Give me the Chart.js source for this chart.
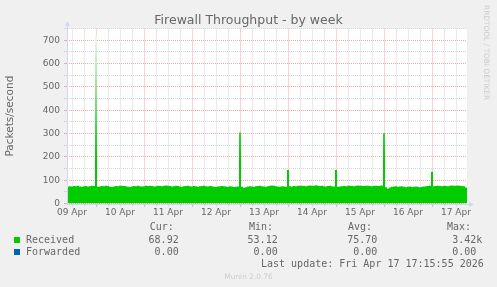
<!DOCTYPE html>
<html>
<head>
<meta charset="utf-8">
<script src="https://cdn.jsdelivr.net/npm/chart.js@4"></script>
<style>
  body { margin: 0; background: #f0f0f0; }
  #wrap { position: relative; width: 497px; height: 287px; overflow: hidden; font-family: "DejaVu Sans", sans-serif; color: #666; }
  canvas { position: absolute; left: 0; top: 0; }
  .t { position: absolute; white-space: pre; }
  .mono { font-family: "DejaVu Sans Mono", monospace; font-size: 10px; line-height: 12px; }
  .sq { position: absolute; width: 6px; height: 6px; }
</style>
</head>
<body>
<div id="wrap">
  <canvas id="chart" width="497" height="287"></canvas>
  <div class="t" id="title" style="left:0;width:497px;top:12px;text-align:center;font-size:12.5px;line-height:15px;">Firewall Throughput - by week</div>
  <div class="t" id="rrd" style="left:482px;top:5px;font-size:7.4px;line-height:9px;color:#ccc;writing-mode:vertical-rl;">RRDTOOL / TOBI OETIKER</div>
  <div class="t" id="munin" style="left:0;width:497px;top:272px;text-align:center;font-size:7.4px;line-height:9px;color:#ccc;">Munin 2.0.76</div>
  <div id="legend"></div>
</div>
<script>
// time axis in hours since 09 Apr 00:00
const startHour = 9.5;   // 09 Apr 09:30
const endHour = 209.5;   // 17 Apr 17:30
const dayLabels = ['09 Apr', '10 Apr', '11 Apr', '12 Apr', '13 Apr', '14 Apr', '15 Apr', '16 Apr', '17 Apr'];

// hourly Received packets/second, one value per hour from startHour
const received = [
  // 09 Apr
  72, 74, 73, 75, 74, 76, 73, 72, 74, 75, 73, 74, 76, 75,
  // 10 Apr
  720, 72, 73, 75, 74, 76, 75, 72, 71, 73, 75, 74, 76, 77, 75, 74, 72, 71, 73, 75, 74, 76, 74, 73,
  // 11 Apr
  74, 76, 75, 77, 75, 73, 74, 76, 75, 74, 76, 78, 76, 75, 73, 74, 76, 75, 73, 72, 74, 75, 76, 74,
  // 12 Apr
  73, 75, 74, 72, 74, 75, 76, 74, 73, 75, 74, 72, 71, 73, 74, 75, 74, 73, 72, 74, 73, 71, 72, 73,
  // 13 Apr
  305, 72, 68, 70, 73, 74, 73, 72, 74, 75, 76, 74, 73, 72, 74, 76, 78, 76, 74, 73, 72, 74, 73, 72,
  // 14 Apr
  144, 74, 73, 75, 74, 76, 77, 76, 75, 74, 76, 78, 77, 76, 79, 77, 75, 76, 74, 73, 75, 76, 74, 73,
  // 15 Apr
  144, 72, 73, 74, 75, 74, 76, 77, 75, 74, 76, 78, 77, 76, 75, 77, 76, 75, 74, 76, 77, 75, 76, 78,
  // 16 Apr
  303, 70, 65, 69, 72, 73, 74, 72, 73, 74, 72, 70, 72, 73, 71, 72, 73, 72, 70, 72, 73, 74, 75, 76,
  // 17 Apr
  137, 74, 75, 76, 75, 74, 76, 75, 74, 76, 78, 77, 76, 78, 77, 75, 74, 69
];

// legend table
const seriesNames  = ['Received', 'Forwarded'];
const seriesColors = ['#00cc00', '#0066b3'];
const curValues = ['68.92 ', '0.00 '];
const minValues = ['53.12 ', '0.00 '];
const avgValues = ['75.70 ', '0.00 '];
const maxValues = ['3.42k', '0.00 '];
const lastUpdate = 'Last update: Fri Apr 17 17:15:55 2026';

const gridMinor = '#d6d6d6';
const gridMajor = '#f0a8a8';
const axisColor = '#cfd6f8';

const points = received.map((v, i) => ({ x: startHour + i, y: v }));
points.push({ x: endHour, y: received[received.length - 1] });

const tickHours = [];
for (let h = 12; h < endHour; h += 6) tickHours.push(h);

const plotBg = {
  id: 'plotBg',
  beforeDraw(chart) {
    const { ctx, chartArea: a } = chart;
    ctx.save();
    ctx.fillStyle = '#ffffff';
    ctx.fillRect(a.left, a.top, a.right - a.left, a.bottom - a.top);
    ctx.restore();
  }
};

const axes = {
  id: 'axes',
  afterDatasetsDraw(chart) {
    const { ctx, chartArea: a } = chart;
    const x0 = Math.round(a.left) + 0.5;
    const y0 = Math.round(a.bottom) + 0.5;
    ctx.save();
    ctx.strokeStyle = axisColor;
    ctx.fillStyle = axisColor;
    ctx.lineWidth = 1;
    ctx.beginPath();
    ctx.moveTo(x0, y0);
    ctx.lineTo(a.right + 2, y0);
    ctx.moveTo(x0, y0);
    ctx.lineTo(x0, a.top - 3);
    ctx.stroke();
    ctx.beginPath();
    ctx.moveTo(a.right + 7, y0);
    ctx.lineTo(a.right + 2, y0 - 2.5);
    ctx.lineTo(a.right + 2, y0 + 2.5);
    ctx.closePath();
    ctx.fill();
    ctx.beginPath();
    ctx.moveTo(x0, a.top - 7);
    ctx.lineTo(x0 - 2.5, a.top - 2.5);
    ctx.lineTo(x0 + 2.5, a.top - 2.5);
    ctx.closePath();
    ctx.fill();
    ctx.restore();
  }
};

Chart.defaults.font.family = '"DejaVu Sans", sans-serif';
Chart.defaults.color = '#666';

new Chart(document.getElementById('chart'), {
  type: 'line',
  data: {
    datasets: [{
      label: 'Received',
      data: points,
      stepped: true,
      fill: 'origin',
      borderWidth: 0,
      pointRadius: 0,
      backgroundColor: ctx => {
        const a = ctx.chart.chartArea;
        if (!a) return '#00cc00';
        const g = ctx.chart.ctx.createLinearGradient(0, a.bottom, 0, a.top);
        g.addColorStop(0, '#00cc00');
        g.addColorStop(0.25, '#00cc00');
        g.addColorStop(0.6, '#80e080');
        g.addColorStop(0.95, '#eaf9ea');
        return g;
      }
    }]
  },
  options: {
    responsive: false,
    animation: false,
    layout: { padding: { top: 28.6, right: 30, bottom: 53.4, left: 0 } },
    plugins: { legend: { display: false }, tooltip: { enabled: false } },
    scales: {
      x: {
        type: 'linear',
        min: startHour,
        max: endHour,
        afterBuildTicks: s => { s.ticks = tickHours.map(v => ({ value: v })); },
        afterFit: s => { s.height = 30; s.paddingLeft = 0; s.paddingRight = 0; },
        ticks: {
          autoSkip: false,
          maxRotation: 0,
          padding: 1,
          font: { size: 9 },
          color: '#666',
          callback: v => (v % 24 === 12 ? dayLabels[(v - 12) / 24] : '')
        },
        grid: {
          color: c => (c.tick && c.tick.value % 24 === 0 ? gridMajor : gridMinor),
          tickColor: c => (c.tick && c.tick.value % 24 === 0 ? gridMajor : gridMinor),
          tickLength: 3
        },
        border: { display: false, dash: [1, 1] }
      },
      y: {
        min: 0,
        max: 750,
        afterFit: s => { s.width = 67; s.paddingTop = 0; s.paddingBottom = 0; },
        ticks: {
          stepSize: 50,
          autoSkip: false,
          padding: 4,
          font: { size: 9 },
          color: '#666',
          callback: v => (v % 100 === 0 ? v : '')
        },
        grid: {
          color: c => (c.tick && c.tick.value % 100 === 0 ? gridMajor : gridMinor),
          tickColor: c => (c.tick && c.tick.value % 100 === 0 ? gridMajor : gridMinor),
          tickLength: 3
        },
        border: { display: false, dash: [1, 1] },
        title: {
          display: true,
          text: 'Packets/second',
          font: { size: 10.5 },
          color: '#666',
          padding: { top: 4.4, bottom: 0 }
        }
      }
    }
  },
  plugins: [plotBg, axes]
});

// legend block below the plot
const legend = document.getElementById('legend');
const headerLeft = [149.7, 249, 348, 447];
const colRight = [184.7, 283.7, 383.3, 482.3];
const rowTop = [233.5, 245.5];
let html = '';
['Cur:', 'Min:', 'Avg:', 'Max:'].forEach((h, i) => {
  html += `<div class="t mono" style="left:${headerLeft[i]}px;top:220.5px">${h}</div>`;
});
seriesNames.forEach((name, r) => {
  const top = rowTop[r];
  html += `<div class="sq" style="left:14px;top:${top + 3.5}px;background:${seriesColors[r]}"></div>`;
  html += `<div class="t mono" style="left:26px;top:${top}px">${name}</div>`;
  [curValues, minValues, avgValues, maxValues].forEach((vals, c) => {
    html += `<div class="t mono" style="right:${497 - colRight[c]}px;top:${top}px;text-align:right">${vals[r]}</div>`;
  });
});
html += `<div class="t mono" style="left:261px;top:257.8px">${lastUpdate}</div>`;
legend.innerHTML = html;
</script>
</body>
</html>
